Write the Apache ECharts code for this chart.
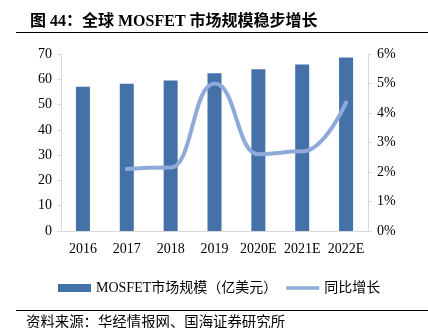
<!DOCTYPE html>
<html><head><meta charset="utf-8">
<script src="https://cdn.jsdelivr.net/npm/echarts@6/dist/echarts.min.js"></script>
<style>html,body{margin:0;padding:0;background:#fff}#c{width:428px;height:328px}</style>
</head><body><div id="c"></div>
<script>
const categories = ['2016','2017','2018','2019','2020E','2021E','2022E'];
const marketSize = [57.0, 58.2, 59.5, 62.4, 64.0, 65.8, 68.6];
const growth = [null, 2.1, 2.15, 5.0, 2.6, 2.7, 4.35];
const leftTicks = [0,10,20,30,40,50,60,70];
const rightTicks = [0,1,2,3,4,5,6];

const FONT = "'Liberation Serif','Times New Roman','Noto Sans CJK SC',serif";
const chart = echarts.init(document.getElementById('c'));
chart.setOption({
  animation: false,
  textStyle: {fontFamily: FONT},
  title: {
    text: '图 44：全球 MOSFET 市场规模稳步增长',
    left: 25, top: 9,
    textStyle: {fontSize: 16, fontWeight: 'bold', color: '#000', fontFamily: FONT}
  },
  graphic: [
    {type: 'line', shape: {x1: 16, y1: 32.5, x2: 428, y2: 32.5}, style: {stroke: '#000', lineWidth: 1}},
    {type: 'line', shape: {x1: 16, y1: 310.5, x2: 428, y2: 310.5}, style: {stroke: '#000', lineWidth: 1}},
    {type: 'text', left: 26, top: 314, style: {text: '资料来源：华经情报网、国海证券研究所', fontSize: 14.4, fill: '#000', fontFamily: "'Noto Sans CJK SC',sans-serif"}}
  ],
  grid: {left: 61, right: 60, top: 54, bottom: 97},
  legend: {
    left: 53, top: 276,
    itemWidth: 33, itemHeight: 8, itemGap: 9,
    textStyle: {fontSize: 14, color: '#000', fontFamily: FONT},
    data: [
      {name: 'MOSFET市场规模（亿美元）', icon: 'rect'},
      {name: '同比增长', icon: 'path://M0,0 L40,0 L40,4 L0,4 Z'}
    ]
  },
  xAxis: {
    type: 'category', data: categories,
    axisLine: {lineStyle: {color: '#d9d9d9'}},
    axisTick: {show: false},
    axisLabel: {fontSize: 14, color: '#000', margin: 11, interval: 0, fontFamily: FONT}
  },
  yAxis: [
    {type: 'value', min: 0, max: 70, interval: 10,
     axisLine: {show: true, lineStyle: {color: '#d9d9d9'}},
     axisTick: {show: true, length: 4, lineStyle: {color: '#d9d9d9'}},
     splitLine: {show: false},
     axisLabel: {fontSize: 14, color: '#000', margin: 9, fontFamily: FONT}},
    {type: 'value', min: 0, max: 6, interval: 1,
     axisLine: {show: true, lineStyle: {color: '#d9d9d9'}},
     axisTick: {show: true, length: 4, lineStyle: {color: '#d9d9d9'}},
     splitLine: {show: false},
     axisLabel: {fontSize: 14, color: '#000', margin: 9, formatter: v => v + '%', fontFamily: FONT}}
  ],
  series: [
    {name: 'MOSFET市场规模（亿美元）', type: 'bar', data: marketSize, barWidth: 14,
     itemStyle: {color: '#4472a8'}},
    {name: '同比增长', type: 'line', yAxisIndex: 1, data: growth, smooth: 0.5, smoothMonotone: 'x',
     showSymbol: false, symbol: 'none', connectNulls: false,
     lineStyle: {color: '#8eaadb', width: 4, cap: 'round'}, itemStyle: {color: '#8eaadb'}}
  ]
});
</script></body></html>
